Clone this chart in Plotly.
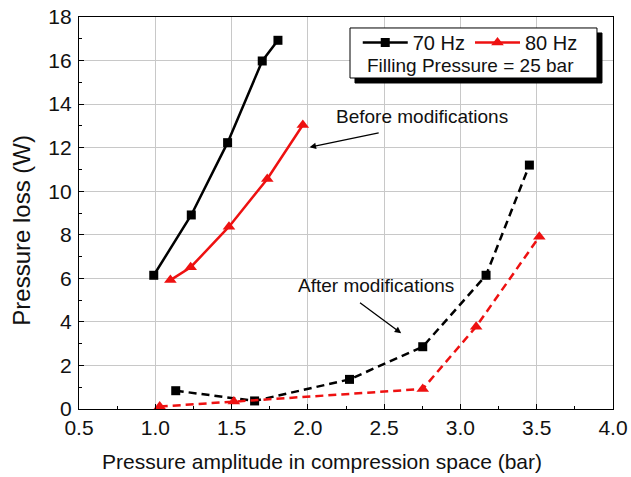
import plotly.graph_objects as go

# ---- data ----
x_70_before = [0.99, 1.236, 1.474, 1.701, 1.804]
y_70_before = [6.14, 8.91, 12.23, 15.98, 16.93]
x_80_before = [1.099, 1.232, 1.483, 1.734, 1.967]
y_80_before = [5.92, 6.51, 8.37, 10.56, 13.04]
x_70_after = [1.134, 1.651, 2.273, 2.753, 3.168, 3.452]
y_70_after = [0.84, 0.37, 1.36, 2.86, 6.14, 11.20]
x_80_after = [1.029, 1.515, 2.753, 3.103, 3.517]
y_80_after = [0.11, 0.34, 0.92, 3.78, 7.91]

series_names = ["70 Hz", "80 Hz"]
x_title = "Pressure amplitude in compression space (bar)"
y_title = "Pressure loss (W)"
legend_note = "Filling Pressure = 25 bar"
label_before = "Before modifications"
label_after = "After modifications"

FONT = "Liberation Sans, Arial, sans-serif"
BLACK = "#000000"
RED = "#ee1111"
TXT = "#111111"

fig = go.Figure()

sq = dict(symbol="square", size=9, color=BLACK)
tri = dict(symbol="triangle-up", size=11, color=RED)

fig.add_trace(go.Scatter(x=x_70_before, y=y_70_before, mode="lines+markers",
                         name=series_names[0], line=dict(color=BLACK, width=2.5),
                         marker=sq, showlegend=True))
fig.add_trace(go.Scatter(x=x_80_before, y=y_80_before, mode="lines+markers",
                         name=series_names[1], line=dict(color=RED, width=2.5),
                         marker=tri, showlegend=True))
fig.add_trace(go.Scatter(x=x_70_after, y=y_70_after, mode="lines+markers",
                         name=series_names[0], line=dict(color=BLACK, width=2.5, dash="8px,5px"),
                         marker=sq, showlegend=False))
fig.add_trace(go.Scatter(x=x_80_after, y=y_80_after, mode="lines+markers",
                         name=series_names[1], line=dict(color=RED, width=2.5, dash="8px,5px"),
                         marker=tri, showlegend=False))

axis_common = dict(
    showline=True, linecolor=BLACK, linewidth=1.3, mirror=True,
    ticks="inside", ticklen=5, tickcolor=BLACK, tickwidth=1,
    showgrid=True, gridcolor="#c8c8c8", gridwidth=1, zeroline=False,
    tickfont=dict(family=FONT, size=21, color=TXT), automargin=False,
)

fig.update_xaxes(range=[0.5, 4.0], dtick=0.5, tick0=0.5, tickformat=".1f",
                 minor=dict(dtick=0.25, ticks="inside", ticklen=3, tickcolor=BLACK, showgrid=False),
                 **axis_common)
fig.update_yaxes(range=[0, 18], dtick=2, tick0=0,
                 minor=dict(dtick=1, ticks="inside", ticklen=3, tickcolor=BLACK, showgrid=False),
                 ticklabelstandoff=2,
                 **axis_common)

# axis titles placed as in the reference
fig.add_annotation(xref="paper", yref="paper", x=0.4545, y=-0.1327, text=x_title, showarrow=False,
                   font=dict(family=FONT, size=21, color=TXT), xanchor="center", yanchor="middle")
fig.add_annotation(xref="paper", yref="paper", x=-0.107, y=0.457, text=y_title, showarrow=False,
                   textangle=-90, font=dict(family=FONT, size=24, color=TXT),
                   xanchor="center", yanchor="middle")

# legend frame with drop shadow
lx0, lx1, ly0, ly1 = 0.5075, 0.970, 0.8444, 0.972
dx, dy = 5 / 534, 5 / 392
fig.add_shape(type="rect", xref="paper", yref="paper", x0=lx0 + dx, x1=lx1 + dx, y0=ly0 - dy, y1=ly1 - dy,
              fillcolor=BLACK, line=dict(color=BLACK, width=1), layer="above")
fig.add_shape(type="rect", xref="paper", yref="paper", x0=lx0, x1=lx1, y0=ly0, y1=ly1,
              fillcolor="white", line=dict(color=BLACK, width=1), layer="above")

fig.add_annotation(xref="paper", yref="paper", x=0.734, y=0.876, text=legend_note, showarrow=False,
                   font=dict(family=FONT, size=19, color=TXT), xanchor="center", yanchor="middle")

# labels + arrows
fig.add_annotation(x=2.748, y=13.45, text=label_before, showarrow=False,
                   font=dict(family=FONT, size=19, color=TXT))
fig.add_annotation(x=2.011, y=12.02, ax=2.474, ay=12.69, axref="x", ayref="y", text="",
                   showarrow=True, arrowhead=2, arrowsize=1, arrowwidth=1.3, arrowcolor=BLACK)
fig.add_annotation(x=2.448, y=5.69, text=label_after, showarrow=False,
                   font=dict(family=FONT, size=19, color=TXT))
fig.add_annotation(x=2.612, y=3.48, ax=2.332, ay=4.93, axref="x", ayref="y", text="",
                   showarrow=True, arrowhead=2, arrowsize=1, arrowwidth=1.3, arrowcolor=BLACK)

fig.update_layout(
    width=631, height=477,
    margin=dict(l=79, r=18, t=17, b=68, autoexpand=False),
    paper_bgcolor="white", plot_bgcolor="white",
    font=dict(family=FONT, size=19, color=TXT),
    showlegend=True,
    legend=dict(orientation="h", x=0.522, y=0.985, xanchor="left", yanchor="top",
                bgcolor="rgba(0,0,0,0)", borderwidth=0, itemwidth=45,
                font=dict(family=FONT, size=20, color=TXT), tracegroupgap=0),
)

fig.write_html("out.html")
